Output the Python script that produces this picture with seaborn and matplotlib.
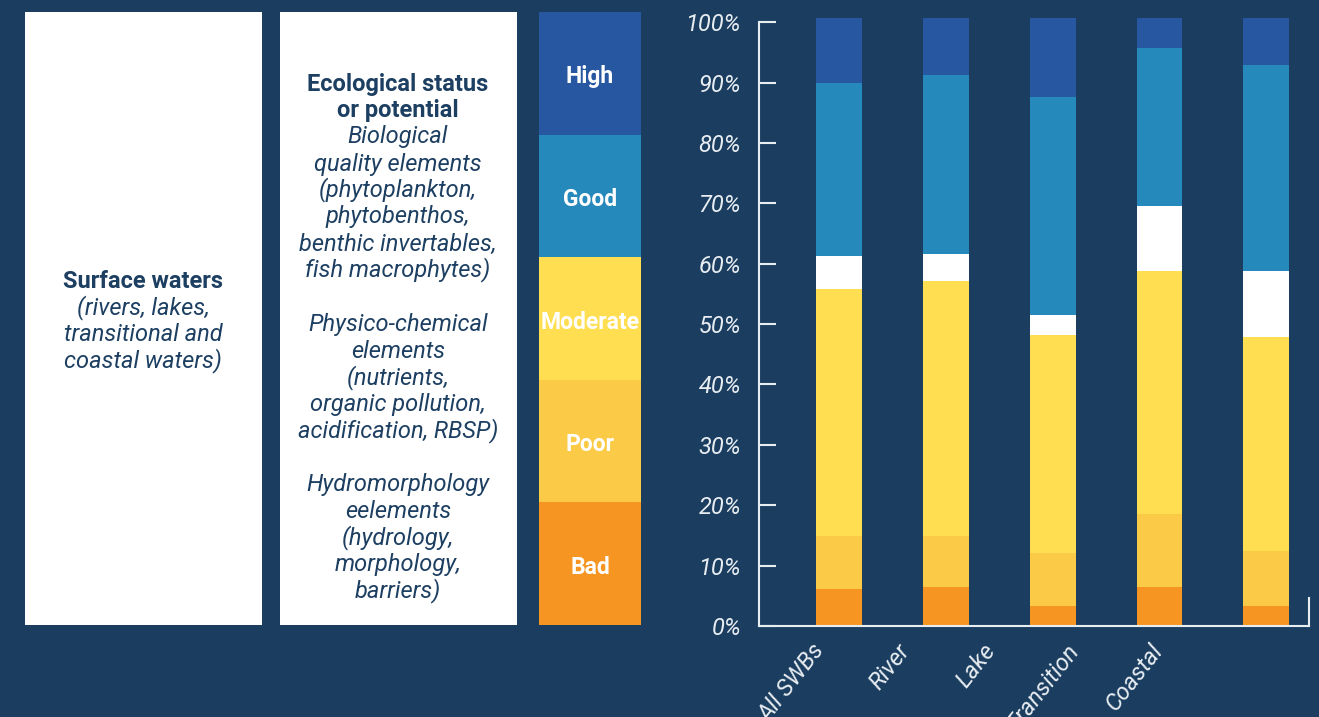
import pandas as pd
import matplotlib.pyplot as plt
import seaborn as sns

sns.set_theme(style="white")
plt.rcParams['font.family'] = ['Roboto', 'DejaVu Sans']

# --------------------------
# Data (% of surface water bodies per ecological status class)
# --------------------------
categories = ["All SWBs", "River", "Lake", "Transition", "Coastal"]
bad = [6.2, 6.5, 3.3, 6.5, 3.3]
poor = [8.7, 8.4, 8.8, 12.0, 9.1]
moderate = [40.9, 42.2, 36.1, 40.3, 35.4]
unknown = [5.5, 4.5, 3.3, 10.7, 11.0]
good = [28.6, 29.6, 36.1, 26.2, 34.1]
high = [10.8, 9.5, 13.1, 5.0, 7.8]

status_classes = ["Bad", "Poor", "Moderate", "Good", "High"]
y_ticks = [0, 10, 20, 30, 40, 50, 60, 70, 80, 90, 100]
# label anchors are offset from the bars in the original
label_pos = [-0.17, 0.62, 1.42, 2.20, 2.99]

BG = "#1b3e60"
NAVY = "#1d3f62"
LINE = "#e8edf2"
colors = {"Bad": "#f69521", "Poor": "#fbca47", "Moderate": "#ffde52",
          "Unknown": "#ffffff", "Good": "#2689bb", "High": "#2657a0"}
FS = 17

W, H = 1319, 717
fig = plt.figure(figsize=(W / 100, H / 100), dpi=100)
fig.patch.set_facecolor(BG)


def rect(x0, y0, x1, y1):
    return [x0 / W, 1 - y1 / H, (x1 - x0) / W, (y1 - y0) / H]


def white_panel(x0, y0, x1, y1):
    a = fig.add_axes(rect(x0, y0, x1, y1))
    a.set_facecolor("white")
    a.set_xticks([])
    a.set_yticks([])
    for s in a.spines.values():
        s.set_visible(False)
    a.set_xlim(x0, x1)
    a.set_ylim(y1, y0)
    return a


# --------------------------
# Left text panels
# --------------------------
p1 = white_panel(25, 12, 262, 625)
p1.text(143, 282, "Surface waters", ha="center", va="center", fontsize=FS,
        fontweight="bold", color=NAVY)
for i, line in enumerate(["(rivers, lakes,", "transitional and", "coastal waters)"]):
    p1.text(143, 308 + i * 26.5, line, ha="center", va="center", fontsize=FS,
            style="italic", color=NAVY)

p2 = white_panel(280, 12, 517, 625)
panel2_lines = [
    ("Ecological status", "bold", 84), ("or potential", "bold", 111),
    ("Biological", "italic", 137), ("quality elements", "italic", 164),
    ("(phytoplankton,", "italic", 190), ("phytobenthos,", "italic", 217),
    ("benthic invertables,", "italic", 244), ("fish macrophytes)", "italic", 270),
    ("Physico-chemical", "italic", 324), ("elements", "italic", 351),
    ("(nutrients,", "italic", 378), ("organic pollution,", "italic", 404),
    ("acidification, RBSP)", "italic", 431),
    ("Hydromorphology", "italic", 485), ("eelements", "italic", 511),
    ("(hydrology,", "italic", 538), ("morphology,", "italic", 564),
    ("barriers)", "italic", 591),
]
for txt, kind, y in panel2_lines:
    if kind == "bold":
        p2.text(398, y, txt, ha="center", va="center", fontsize=FS,
                fontweight="bold", color=NAVY)
    else:
        p2.text(398, y, txt, ha="center", va="center", fontsize=FS,
                style="italic", color=NAVY)

# --------------------------
# Status colour key
# --------------------------
key = fig.add_axes(rect(539, 12, 641, 625))
for i, name in enumerate(status_classes):
    key.bar(0, 1, bottom=i, width=1, color=colors[name], linewidth=0)
    key.text(0, i + 0.47, name, ha="center", va="center", fontsize=16.5,
             fontweight="bold", color="white")
key.set_xlim(-0.5, 0.5)
key.set_ylim(0, len(status_classes))
key.axis("off")

# --------------------------
# Stacked bar chart
# --------------------------
df = pd.DataFrame({"type": categories, "Bad": bad, "Poor": poor,
                   "Moderate": moderate, "Unknown": unknown,
                   "Good": good, "High": high})
layers = ["Bad", "Poor", "Moderate", "Unknown", "Good", "High"]
cum = df[layers].cumsum(axis=1)
cum["type"] = df["type"]

ax = fig.add_axes(rect(759, 18, 1309, 626))
ax.set_facecolor(BG)
for layer in reversed(layers):
    sns.barplot(data=cum, x="type", y=layer, order=categories, color=colors[layer],
                saturation=1, width=0.43, linewidth=0, ax=ax)

ax.set_xlim(-0.75, 4.40)
ax.set_ylim(0, 100.7)
ax.set_xlabel("")
ax.set_ylabel("")

ax.set_yticks(y_ticks, labels=[f"{v}%" for v in y_ticks])
ax.tick_params(axis="y", direction="in", length=12, width=1.5, color=LINE,
               pad=13, labelsize=FS, labelcolor=LINE, left=True)
for lab in ax.get_yticklabels():
    lab.set_fontstyle("italic")

ax.set_xticks(label_pos, labels=categories)
ax.tick_params(axis="x", length=0, pad=15, labelsize=FS, labelcolor=LINE)
for lab in ax.get_xticklabels():
    lab.set_fontstyle("italic")
    lab.set_rotation(52)
    lab.set_ha("right")
    lab.set_va("center")
    lab.set_rotation_mode("anchor")

for side in ["left", "bottom", "right"]:
    ax.spines[side].set_color(LINE)
    ax.spines[side].set_linewidth(1.5)
    ax.spines[side].set_visible(True)
ax.spines["top"].set_visible(False)
ax.spines["left"].set_bounds(0, 100)
ax.spines["right"].set_bounds(0, 4.6)
ax.grid(False)

fig.savefig("out.png", dpi=100, facecolor=BG)
